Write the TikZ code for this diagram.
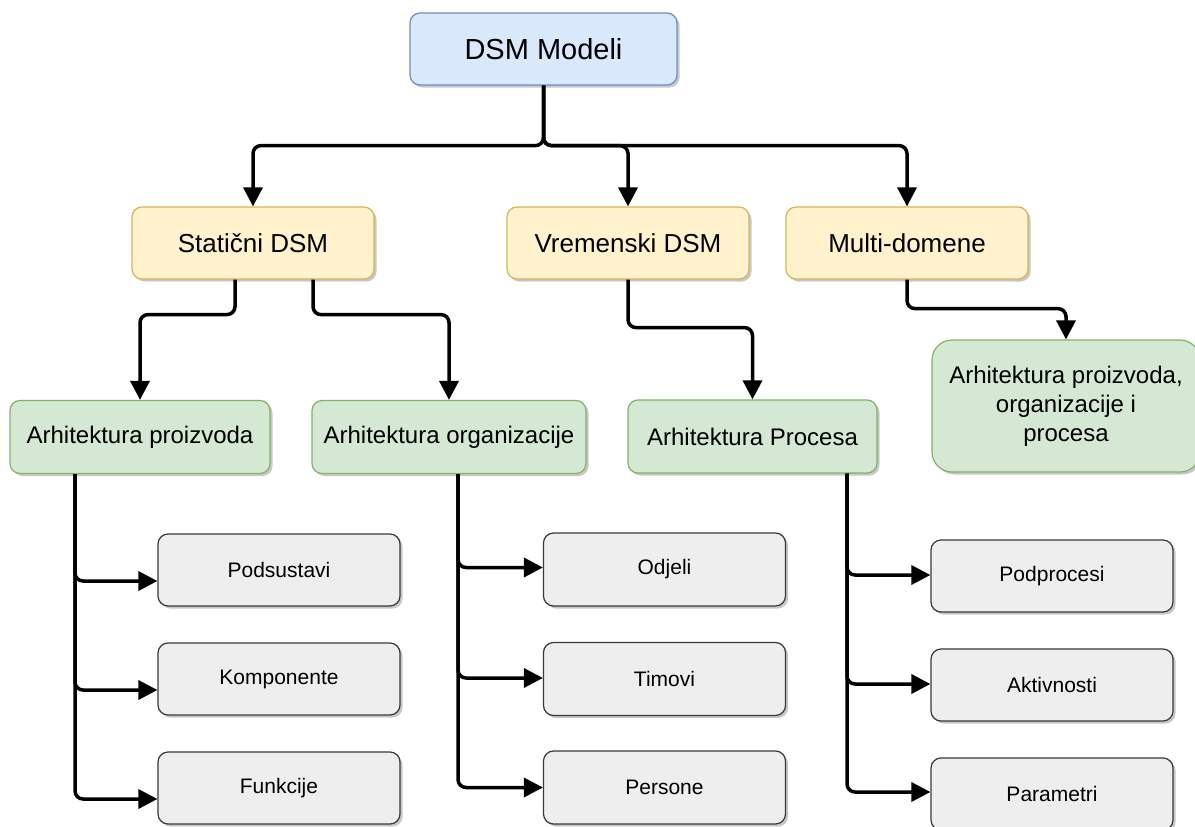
\documentclass[tikz,border=0pt]{standalone}
\usepackage{fontspec}
\setmainfont{Liberation Sans}
\usetikzlibrary{arrows.meta,shadows,calc}
\definecolor{bfill}{HTML}{DAE8FC}\definecolor{bdraw}{HTML}{6C8EBF}
\definecolor{yfill}{HTML}{FFF2CC}\definecolor{ydraw}{HTML}{D6B656}
\definecolor{gfill}{HTML}{D5E8D4}\definecolor{gdraw}{HTML}{82B366}
\definecolor{hfill}{HTML}{EEEEEE}\definecolor{hdraw}{HTML}{36393D}
\begin{document}
\begin{tikzpicture}[x=1pt,y=1pt,
  box/.style={draw, line width=1.2pt, rounded corners=10pt, inner sep=0pt, align=center,
    drop shadow={shadow xshift=2.5pt, shadow yshift=-2.5pt, opacity=0.22, fill=black}},
  topbox/.style={box, fill=bfill, draw=bdraw, minimum width=267pt, minimum height=72pt, font=\fontsize{29}{34}\selectfont},
  ybox/.style={box, fill=yfill, draw=ydraw, minimum width=242pt, minimum height=72pt, font=\fontsize{26}{31}\selectfont},
  gbox/.style={box, fill=gfill, draw=gdraw, minimum height=73pt, font=\fontsize{24}{29}\selectfont},
  hbox/.style={box, fill=hfill, draw=hdraw, minimum width=242pt, minimum height=72pt, font=\fontsize{21}{25}\selectfont},
  conn/.style={line width=3.5pt, rounded corners=8pt, -{Triangle[length=19pt,width=19pt]}}]
\useasboundingbox (0,0) rectangle (1195,-827);
\fill[white] (0,0) rectangle (1195,-827);

\node[topbox] (dsm) at (543.5,-49) {DSM Modeli};
\node[ybox] (stat) at (253,-243) {Statični DSM};
\node[ybox] (vrem) at (628,-243) {Vremenski DSM};
\node[ybox] (multi) at (907,-243) {Multi-domene};

\node[gbox, minimum width=260pt] (prz) at (140,-437) {Arhitektura proizvoda};
\node[gbox, minimum width=274pt] (org) at (449,-437) {Arhitektura organizacije};
\node[gbox, minimum width=249pt] (proc) at (752.5,-436.5) {Arhitektura Procesa};
\node[gbox, minimum width=268pt, minimum height=132pt, rounded corners=20pt] (big) at (1066,-406)
  {Arhitektura proizvoda,\\organizacije i\\procesa};

\node[hbox] (pods) at (279,-570) {Podsustavi};
\node[hbox] (komp) at (279,-679) {Komponente};
\node[hbox] (funk) at (279,-788) {Funkcije};
\node[hbox, minimum height=73pt] (odj) at (664.5,-569.5) {Odjeli};
\node[hbox, minimum height=73pt] (tim) at (664.5,-679) {Timovi};
\node[hbox, minimum height=73pt] (pers) at (664.5,-787.5) {Persone};
\node[hbox] (podp) at (1052,-576) {Podprocesi};
\node[hbox] (akt) at (1052,-685) {Aktivnosti};
\node[hbox] (par) at (1052,-794) {Parametri};

\draw[conn] (dsm.south) -- ++(0,-60) -| (stat.north);
\draw[conn] (dsm.south) -- ++(0,-60) -| (vrem.north);
\draw[conn] (dsm.south) -- ++(0,-60) -| (multi.north);

\draw[conn] ([xshift=-18pt]stat.south) -- ++(0,-35) -| (prz.north);
\draw[conn] ([xshift=60pt]stat.south) -- ++(0,-35) -| (org.north);
\draw[conn] (vrem.south) -- ++(0,-48) -| (proc.north);
\draw[conn] (multi.south) -- ++(0,-29) -| (big.north);

\draw[conn] ([xshift=-65pt]prz.south) |- ([yshift=-11pt]pods.west);
\draw[conn] ([xshift=-65pt]prz.south) |- ([yshift=-11pt]komp.west);
\draw[conn] ([xshift=-65pt]prz.south) |- ([yshift=-11pt]funk.west);

\draw[conn] ([xshift=9pt]org.south) |- ([yshift=2pt]odj.west);
\draw[conn] ([xshift=9pt]org.south) |- ([yshift=1pt]tim.west);
\draw[conn] ([xshift=9pt]org.south) |- ([yshift=0pt]pers.west);

\draw[conn] ([xshift=94.5pt]proc.south) |- ([yshift=1pt]podp.west);
\draw[conn] ([xshift=94.5pt]proc.south) |- ([yshift=1pt]akt.west);
\draw[conn] ([xshift=94.5pt]proc.south) |- ([yshift=2pt]par.west);
\end{tikzpicture}
\end{document}
